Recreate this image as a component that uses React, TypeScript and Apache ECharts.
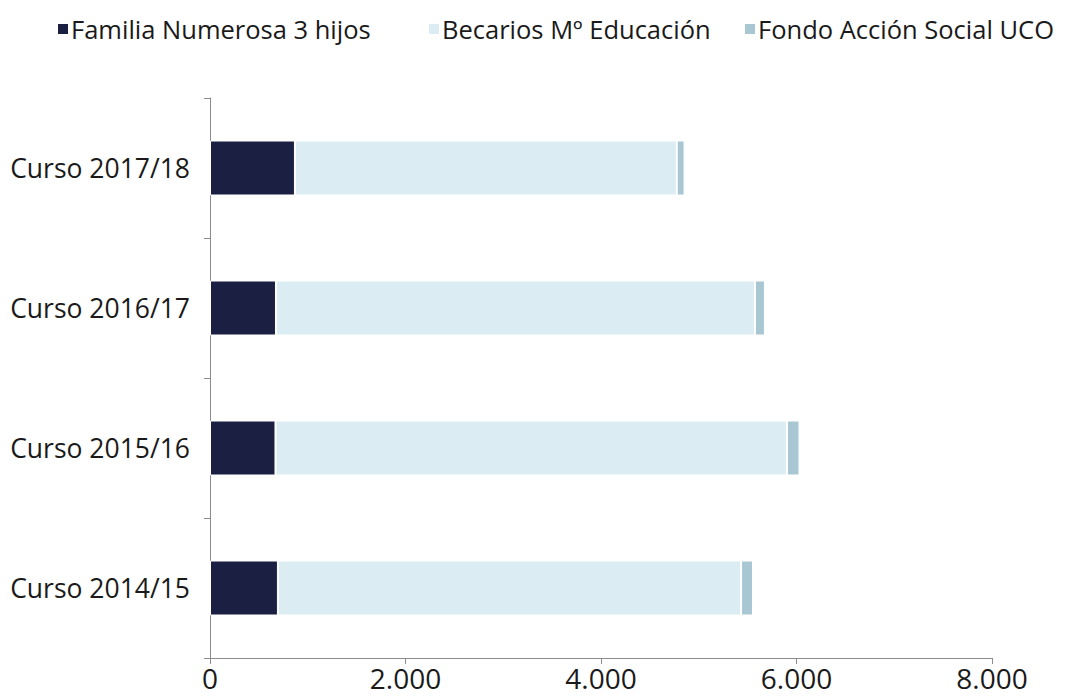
import React, { useEffect, useRef } from "react";
import * as echarts from "echarts";

const categories = ["Curso 2014/15", "Curso 2015/16", "Curso 2016/17", "Curso 2017/18"];
const familia = [695, 670, 675, 869];
const becarios = [4738, 5232, 4900, 3906];
const fondo = [122, 129, 102, 80];
const seriesNames = ["Familia Numerosa 3 hijos", "Becarios Mº Educación", "Fondo Acción Social UCO"];
const colors = ["#1b2043", "#dbedf3", "#a8c7d2"];
const legendLefts = [51, 422, 738];

const FONT = "'Open Sans', 'Noto Sans', sans-serif";

export default function App() {
  const ref = useRef<HTMLDivElement>(null);
  useEffect(() => {
    const chart = echarts.init(ref.current!, undefined, { renderer: "svg" });
    const fmt = (v: number) => (v === 0 ? "0" : v.toLocaleString("de-DE"));
    const mk = (name: string, data: number[], color: string) => ({
      name,
      type: "bar",
      stack: "total",
      data,
      barWidth: 55,
      itemStyle: { color, borderColor: "#ffffff", borderWidth: 1 },
    });
    chart.setOption({
      animation: false,
      color: colors,
      textStyle: { fontFamily: FONT },
      legend: seriesNames.map((n, i) => ({
        top: 11,
        left: legendLefts[i],
        itemWidth: 12,
        itemHeight: 12,
        itemGap: 0,
        icon: "rect",
        textStyle: { fontSize: 25.5, color: "#1a1a1a", fontFamily: FONT, padding: [0, 0, 0, -3] },
        data: [n],
      })),
      grid: { left: 210, right: 75, top: 98, bottom: 40, containLabel: false },
      xAxis: {
        type: "value",
        min: 0,
        max: 8000,
        interval: 2000,
        axisLine: { show: true, lineStyle: { color: "#8c8c8c", width: 1 } },
        axisTick: { show: true, length: 6, lineStyle: { color: "#8c8c8c" } },
        splitLine: { show: false },
        axisLabel: { fontSize: 28, color: "#1a1a1a", margin: 6, formatter: fmt, fontFamily: FONT },
      },
      yAxis: {
        type: "category",
        data: categories,
        axisLine: { show: true, lineStyle: { color: "#8c8c8c", width: 1 } },
        axisTick: { show: true, length: 6, lineStyle: { color: "#8c8c8c" } },
        axisLabel: { fontSize: 26.5, color: "#1a1a1a", margin: 20, fontFamily: FONT },
      },
      series: [
        mk(seriesNames[0], familia, colors[0]),
        mk(seriesNames[1], becarios, colors[1]),
        mk(seriesNames[2], fondo, colors[2]),
      ],
    });
    return () => chart.dispose();
  }, []);
  return <div ref={ref} style={{ width: 1067, height: 698, position: "absolute", left: 0, top: 0 }} />;
}
